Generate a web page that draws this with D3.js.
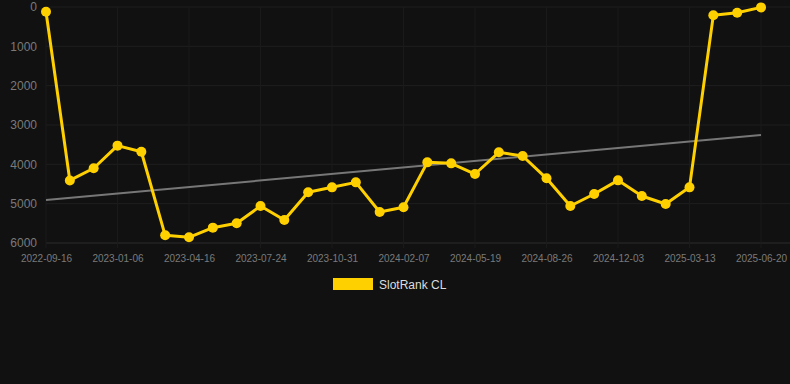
<!DOCTYPE html>
<html>
<head>
<meta charset="utf-8">
<script src="https://cdn.jsdelivr.net/npm/d3@7/dist/d3.min.js"></script>
<style>
  html, body { margin: 0; padding: 0; background: #111111; }
  svg { display: block; }
</style>
</head>
<body>
<svg id="chart"></svg>
<script>
const categories = [
  '2022-09-16', '2022-10-24', '2022-12-01', '2023-01-06', '2023-02-08', '2023-03-13',
  '2023-04-16', '2023-05-20', '2023-06-21', '2023-07-24', '2023-08-26', '2023-09-28',
  '2023-10-31', '2023-12-03', '2024-01-05', '2024-02-07', '2024-03-11', '2024-04-15',
  '2024-05-19', '2024-06-21', '2024-07-24', '2024-08-26', '2024-09-28', '2024-10-31',
  '2024-12-03', '2025-01-05', '2025-02-08', '2025-03-13', '2025-04-15', '2025-05-18',
  '2025-06-20'
];
const rankValues = [
  120, 4410, 4100, 3525, 3680, 5805,
  5855, 5610, 5500, 5060, 5415, 4712,
  4585, 4458, 5212, 5093, 3950, 3975,
  4246, 3695, 3788, 4356, 5060, 4755,
  4407, 4805, 5009, 4585, 212, 144,
  10
];
const trendValues = [4907, 3254];
const yTicks = [0, 1000, 2000, 3000, 4000, 5000, 6000];
const xTickLabels = categories.filter((d, i) => i % 3 === 0);
const seriesName = 'SlotRank CL';

const WIDTH = 790;
const HEIGHT = 384;
const MARGIN = { top: 7, right: 29, bottom: 141, left: 46 };
const LINE_COLOR = '#FFD000';
const TREND_COLOR = '#777777';
const HGRID_COLOR = '#1f1f1f';
const VGRID_COLOR = '#1a1a1a';
const TICK_COLOR = '#7a7a7a';

const svg = d3.select('#chart')
  .attr('width', WIDTH)
  .attr('height', HEIGHT);

const x = d3.scalePoint()
  .domain(categories)
  .range([MARGIN.left, WIDTH - MARGIN.right]);

const y = d3.scaleLinear()
  .domain([0, 6000])
  .range([MARGIN.top, HEIGHT - MARGIN.bottom]);

// grid
const grid = svg.append('g');
grid.selectAll('.hgrid')
  .data(yTicks)
  .enter()
  .append('line')
  .attr('x1', MARGIN.left)
  .attr('x2', WIDTH)
  .attr('y1', d => y(d))
  .attr('y2', d => y(d))
  .attr('stroke', d => d === 6000 ? '#2c2c2c' : HGRID_COLOR)
  .attr('stroke-width', 1);

grid.selectAll('.vgrid')
  .data(xTickLabels)
  .enter()
  .append('line')
  .attr('x1', d => x(d))
  .attr('x2', d => x(d))
  .attr('y1', MARGIN.top)
  .attr('y2', y(6000) + 5)
  .attr('stroke', VGRID_COLOR)
  .attr('stroke-width', 1);

// y axis
const yAxis = svg.append('g')
  .attr('transform', `translate(${MARGIN.left},0)`)
  .call(d3.axisLeft(y).tickValues(yTicks).tickSize(0).tickPadding(9).tickFormat(d3.format('d')));
yAxis.select('.domain').remove();
yAxis.selectAll('text')
  .style('font-family', 'Arial, "Liberation Sans", sans-serif')
  .style('font-size', '12px')
  .attr('fill', TICK_COLOR);

// x axis
const xAxis = svg.append('g')
  .attr('transform', `translate(0,${y(6000)})`)
  .call(d3.axisBottom(x).tickValues(xTickLabels).tickSize(0).tickPadding(12));
xAxis.select('.domain').remove();
xAxis.selectAll('text')
  .style('font-family', 'Arial, "Liberation Sans", sans-serif')
  .style('font-size', '10px')
  .attr('fill', TICK_COLOR);

// trend line
svg.append('line')
  .attr('x1', x(categories[0]))
  .attr('x2', x(categories[categories.length - 1]))
  .attr('y1', y(trendValues[0]))
  .attr('y2', y(trendValues[1]))
  .attr('stroke', TREND_COLOR)
  .attr('stroke-width', 2);

// series line
const data = categories.map((c, i) => ({ c, v: rankValues[i] }));
const line = d3.line()
  .x(d => x(d.c))
  .y(d => y(d.v));

svg.append('path')
  .datum(data)
  .attr('d', line)
  .attr('fill', 'none')
  .attr('stroke', LINE_COLOR)
  .attr('stroke-width', 3)
  .attr('stroke-linejoin', 'round');

svg.selectAll('.pt')
  .data(data)
  .enter()
  .append('circle')
  .attr('cx', d => x(d.c))
  .attr('cy', d => y(d.v))
  .attr('r', 5)
  .attr('fill', LINE_COLOR);

// legend
const legend = svg.append('g')
  .attr('transform', 'translate(333,278)');
legend.append('rect')
  .attr('width', 40)
  .attr('height', 12)
  .attr('fill', LINE_COLOR);
legend.append('text')
  .attr('x', 46)
  .attr('y', 10.5)
  .style('font-family', 'Arial, "Liberation Sans", sans-serif')
  .style('font-size', '12px')
  .attr('fill', '#dddddd')
  .text(seriesName);
</script>
</body>
</html>
